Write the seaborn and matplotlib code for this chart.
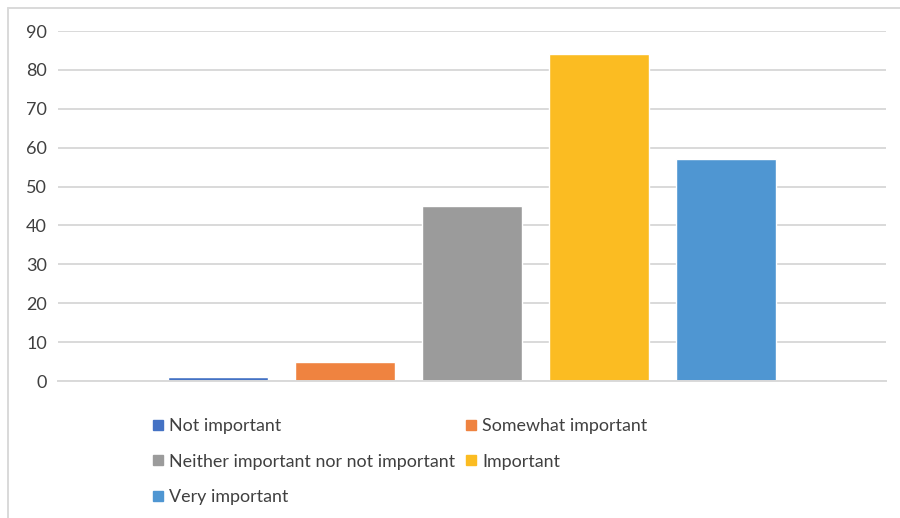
import matplotlib
matplotlib.use("Agg")
import matplotlib.pyplot as plt
from matplotlib.lines import Line2D
import seaborn as sns
import pandas as pd

# Survey responses: how important, and how many respondents chose each
ratings = ["Not important", "Somewhat important",
           "Neither important nor not important", "Important", "Very important"]
counts = [1, 5, 45, 84, 57]
colors = ["#4472C4", "#EF8340", "#9B9B9B", "#FBBC22", "#4F96D2"]
yticks = [0, 10, 20, 30, 40, 50, 60, 70, 80, 90]

df = pd.DataFrame({"group": [""] * len(ratings), "rating": ratings, "count": counts})

sns.set_theme(style="white")
plt.rcParams["font.family"] = ["Lato", "DejaVu Sans"]

fig = plt.figure(figsize=(9, 5.18), dpi=100)
ax = fig.add_axes([58 / 900, 1 - 381 / 518, (886 - 58) / 900, (381 - 31) / 518])

sns.barplot(data=df, x="group", y="count", hue="rating", hue_order=ratings,
            palette=colors, width=0.767, gap=0.21, saturation=1,
            legend=False, ax=ax, errorbar=None)

ax.set_xlim(-0.5, 0.5)
ax.set_ylim(0, 90)
ax.set_yticks(yticks)
ax.set_yticklabels([str(t) for t in yticks], fontsize=13, color="#404040")
ax.set_xticks([])
ax.set_xlabel("")
ax.set_ylabel("")
ax.tick_params(axis="y", length=0, pad=8)
ax.yaxis.grid(True, color="#D9D9D9", linewidth=1.4)
ax.set_axisbelow(True)
for s in ["top", "right", "left"]:
    ax.spines[s].set_visible(False)
ax.spines["bottom"].set_color("#D9D9D9")
ax.spines["bottom"].set_linewidth(1.4)

# Legend laid out row by row across two columns
order = [0, 2, 4, 1, 3]
handles = [Line2D([], [], marker="s", linestyle="", markersize=7,
                  color=colors[i]) for i in order]
labels = [ratings[i] for i in order]
fig.legend(handles, labels, loc="upper left", bbox_to_anchor=(153 / 900, 1 - 418 / 518),
           ncol=2, frameon=False, fontsize=12.9, labelcolor="#404040",
           handlelength=0.6, handletextpad=0.3, columnspacing=0.6,
           labelspacing=1.1, borderpad=0, borderaxespad=0)

# Thin frame along the top and left of the chart area
fig.add_artist(Line2D([8 / 900, 1], [1 - 8 / 518, 1 - 8 / 518],
                      transform=fig.transFigure, color="#D9D9D9", linewidth=1.4))
fig.add_artist(Line2D([8 / 900, 8 / 900], [0, 1 - 8 / 518],
                      transform=fig.transFigure, color="#D9D9D9", linewidth=1.4))

fig.savefig("out.png", dpi=100)
